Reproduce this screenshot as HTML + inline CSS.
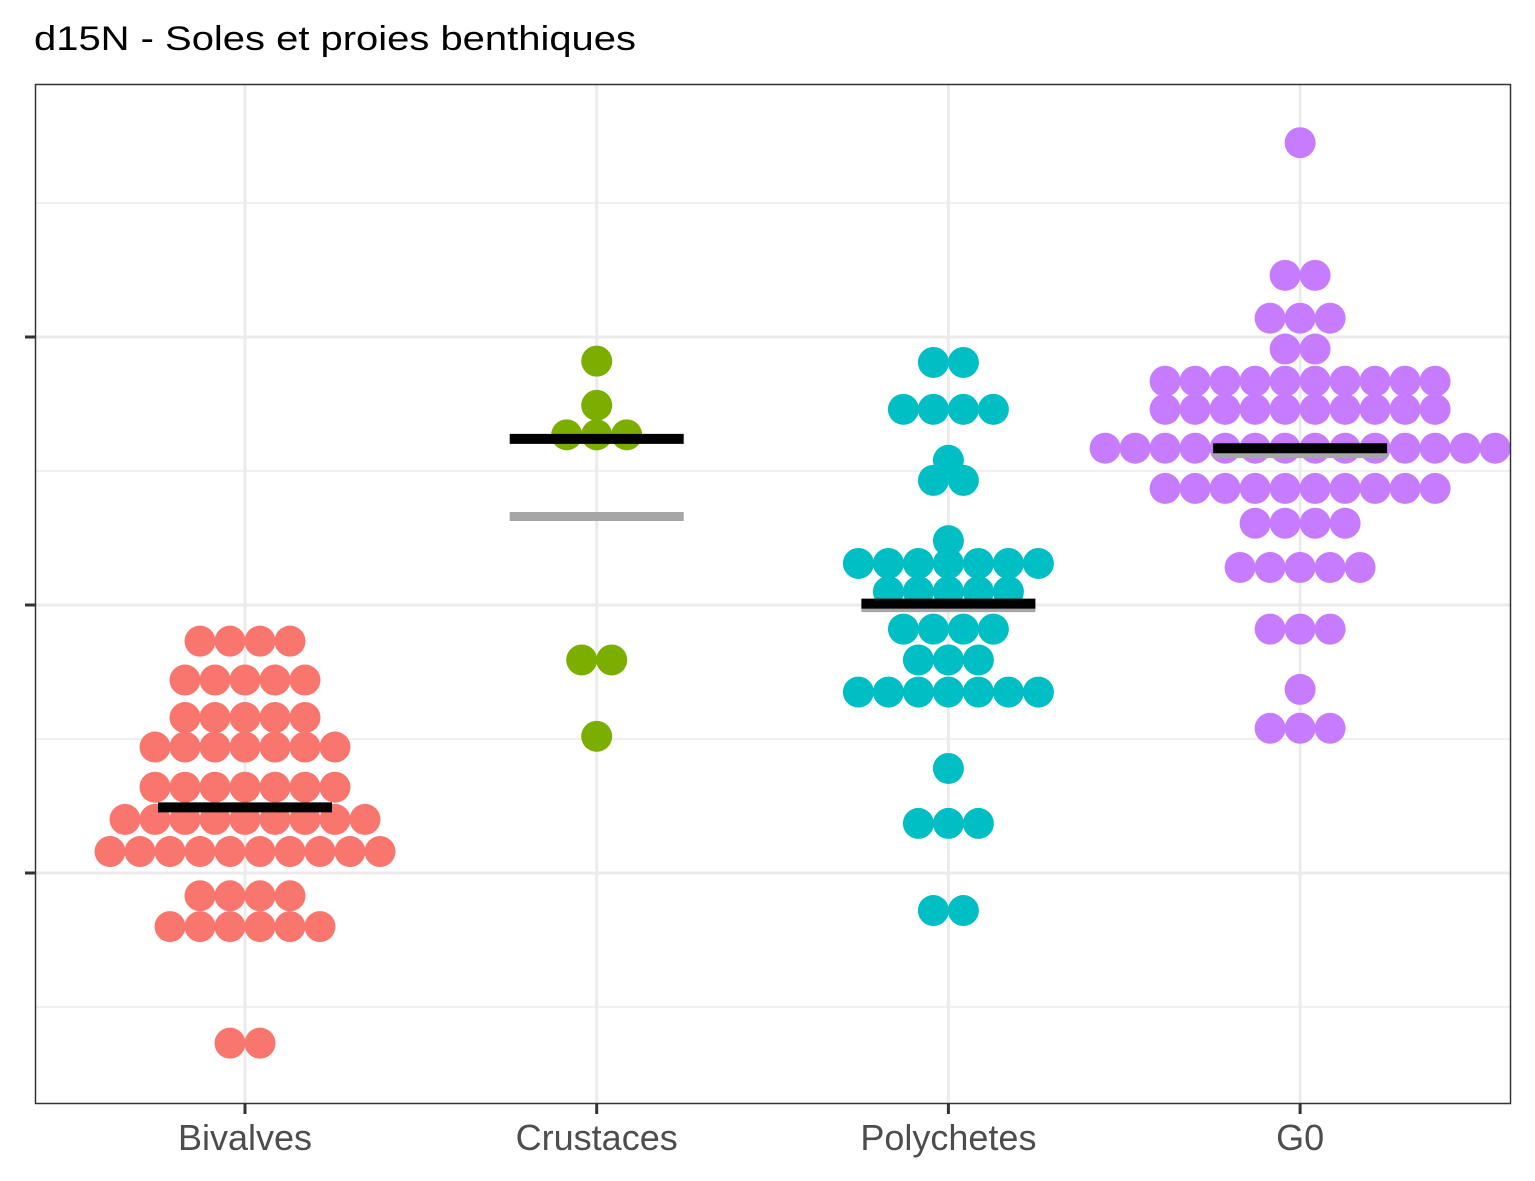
<!DOCTYPE html>
<html><head><meta charset="utf-8"><style>
html,body{margin:0;padding:0;background:#fff;}
svg{display:block;font-family:"Liberation Sans",Arial,sans-serif;}
</style></head><body>
<svg id="chart" width="1535" height="1181" viewBox="0 0 1535 1181">
<rect x="0" y="0" width="1535" height="1181" fill="#fff"/>
<text x="34" y="50" font-size="34" textLength="602" lengthAdjust="spacingAndGlyphs" fill="#000">d15N - Soles et proies benthiques</text>
<g id="grid"></g>
<g id="marks"></g>
<rect x="35.5" y="84.5" width="1475" height="1019" fill="none" stroke="#333" stroke-width="1.5"/>
<g id="axes"></g>
</svg>
<script>
const categories = ["Bivalves","Crustaces","Polychetes","G0"];
const colors = ["#F8766D","#7CAE00","#00BFC4","#C77CFF"];
// each row: [value, count]
const bivalvesRows = [[11.73,4],[11.44,5],[11.16,5],[10.94,7],[10.64,7],[10.40,9],[10.16,10],[9.83,4],[9.60,6],[8.73,2]];
const crustacesRows = [[13.82,1],[13.49,1],[13.27,3],[11.59,2],[11.02,1]];
const polychetesRows = [[13.81,2],[13.46,4],[13.08,1],[12.93,2],[12.48,1],[12.31,7],[12.10,5],[11.82,4],[11.59,3],[11.35,7],[10.78,1],[10.37,3],[9.72,2]];
const g0Rows = [[15.45,1],[14.46,2],[14.14,3],[13.91,2],[13.67,10],[13.46,10],[13.17,14],[12.87,10],[12.61,4],[12.28,5],[11.82,3],[11.37,1],[11.08,3]];
const meanValues = [10.49,13.24,12.01,13.17];
const medianValues = [10.49,12.66,11.98,13.13];
const majorTicks = [10,12,14];
const minorTicks = [9,11,13,15];

const NS="http://www.w3.org/2000/svg";
function y(v){return 873-(v-10)*134;}
function x(i){return 245+i*351.7;}
const DOT=30;
const grid=document.getElementById('grid'), marks=document.getElementById('marks'), axes=document.getElementById('axes');
function mk(tag,attrs,parent){const e=document.createElementNS(NS,tag);for(const k in attrs)e.setAttribute(k,attrs[k]);parent.appendChild(e);return e;}

minorTicks.forEach(t=>{
  const l=mk('line',{x1:36,x2:1510,y1:y(t),y2:y(t),stroke:'#ebebeb','stroke-width':1.5},grid);
  
  
});
majorTicks.forEach(t=>{
  const l=mk('line',{x1:36,x2:1510,y1:y(t),y2:y(t),stroke:'#ebebeb','stroke-width':3},grid);
  
  
  const tk=mk('line',{x1:25,x2:35,y1:y(t),y2:y(t),stroke:'#333','stroke-width':3},axes);
  
  
});
categories.forEach((c,i)=>{
  const l=mk('line',{x1:x(i),x2:x(i),y1:85,y2:1103,stroke:'#ebebeb','stroke-width':3},grid);
  
  
  const tk=mk('line',{x1:x(i),x2:x(i),y1:1104,y2:1114,stroke:'#333','stroke-width':3},axes);
  
  
  const t=mk('text',{x:x(i),y:1150,'text-anchor':'middle','font-size':36,fill:'#4d4d4d'},axes);
  t.textContent=c;
  
  
});
const allRows=[bivalvesRows,crustacesRows,polychetesRows,g0Rows];
allRows.forEach((rows,i)=>{
  rows.forEach(r=>{
    const n=r[1];
    for(let k=0;k<n;k++){
      const cx=x(i)+(k-(n-1)/2)*DOT;
      const d=mk('circle',{cx:cx,cy:y(r[0]),r:15.5,fill:colors[i]},marks);
      
      
    }
  });
});
categories.forEach((c,i)=>{
  const g=mk('line',{x1:x(i)-87,x2:x(i)+87,y1:y(medianValues[i]),y2:y(medianValues[i]),stroke:'#a6a6a6','stroke-width':9},marks);
  
  
  const m=mk('line',{x1:x(i)-87,x2:x(i)+87,y1:y(meanValues[i]),y2:y(meanValues[i]),stroke:'#000','stroke-width':10},marks);
  
  
});
</script>
</body></html>
